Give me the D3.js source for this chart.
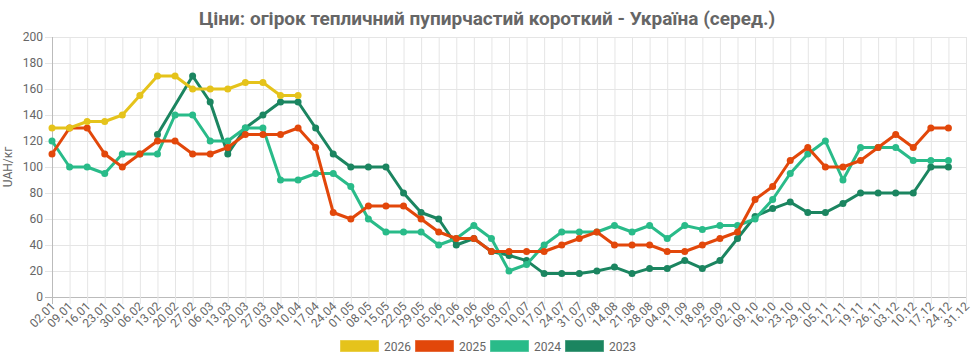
<!DOCTYPE html>
<html>
<head>
<meta charset="utf-8">
<script src="https://cdn.jsdelivr.net/npm/d3@7"></script>
<style>
  body { margin: 0; background: #fff; font-family: Roboto, "Noto Sans", sans-serif; }
  svg text { fill: #666; }
</style>
</head>
<body>
<svg id="chart" width="974" height="361"></svg>
<script>
// weekly labels
var weeks = ["02.01","09.01","16.01","23.01","30.01","06.02","13.02","20.02","27.02","06.03",
  "13.03","20.03","27.03","03.04","10.04","17.04","24.04","01.05","08.05","15.05",
  "22.05","29.05","05.06","12.06","19.06","26.06","03.07","10.07","17.07","24.07",
  "31.07","07.08","14.08","21.08","28.08","04.09","11.09","18.09","25.09","02.10",
  "09.10","16.10","23.10","29.10","05.11","12.11","19.11","26.11","03.12","10.12",
  "17.12","24.12","31.12"];

var y2026 = [130,130,135,135,140,155,170,170,160,160,160,165,165,155,155];

var y2025 = [110,130,130,110,100,110,120,120,110,110,115,125,125,125,130,115,65,60,70,70,
  70,60,50,45,45,35,35,35,35,40,45,50,40,40,40,35,35,40,45,50,
  75,85,105,115,100,100,105,115,125,115,130,130];

var y2024 = [120,100,100,95,110,110,110,140,140,120,120,130,130,90,90,95,95,85,60,50,
  50,50,40,45,55,45,20,25,40,50,50,50,55,50,55,45,55,52,55,55,
  60,75,95,110,120,90,115,115,115,105,105,105];

var y2023 = [null,null,null,null,null,null,125,null,170,150,110,130,140,150,150,130,110,100,100,100,
  80,65,60,40,45,35,32,28,18,18,18,20,23,18,22,22,28,22,28,45,
  62,68,73,65,65,72,80,80,80,80,100,100];

var years = ["2026","2025","2024","2023"];
var colors = ["#e5c31b","#e2470a","#29bb89","#1b8560"];
var seriesList = [y2026, y2025, y2024, y2023];

var svg = d3.select("#chart");
var plotL = 52, plotR = 966, plotT = 37, plotB = 297;

var x = d3.scalePoint().domain(weeks).range([plotL, plotR]);
var y = d3.scaleLinear().domain([0, 200]).range([plotB, plotT]);

// title
svg.append("text")
  .attr("x", 487).attr("y", 25)
  .attr("text-anchor", "middle")
  .style("font-size", "19px").style("font-weight", "bold")
  .text("Ціни: огірок тепличний пупирчастий короткий - Україна (серед.)");

// grid
var ticksY = d3.range(0, 201, 20);
svg.append("g").selectAll("line").data(ticksY).enter().append("line")
  .attr("x1", plotL - 7).attr("x2", plotR)
  .attr("y1", function(d) { return y(d) + 0.5; }).attr("y2", function(d) { return y(d) + 0.5; })
  .attr("stroke", function(d) { return d === 0 ? "#bbb" : "#e5e5e5"; });

svg.append("g").selectAll("line").data(weeks).enter().append("line")
  .attr("x1", function(d) { return x(d) + 0.5; }).attr("x2", function(d) { return x(d) + 0.5; })
  .attr("y1", plotT).attr("y2", plotB + 7)
  .attr("stroke", function(d, i) { return i === 0 ? "#bbb" : "#e5e5e5"; });

// y tick labels
svg.append("g").selectAll("text").data(ticksY).enter().append("text")
  .attr("x", plotL - 9).attr("y", function(d) { return y(d) + 4; })
  .attr("text-anchor", "end")
  .style("font-size", "12px")
  .text(function(d) { return d; });

svg.append("text")
  .attr("transform", "translate(12," + ((plotT + plotB) / 2) + ") rotate(-90)")
  .attr("text-anchor", "middle")
  .style("font-size", "12px")
  .text("UAH/кг");

// x tick labels, rotated
svg.append("g").selectAll("text").data(weeks).enter().append("text")
  .attr("transform", function(d) { return "translate(" + (x(d) + 4) + "," + (plotB + 10) + ") rotate(-45)"; })
  .attr("text-anchor", "end")
  .style("font-size", "12px")
  .text(function(d) { return d; });

// lines, 2023 drawn first so 2026 sits on top
var line = d3.line()
  .x(function(d) { return x(d.w); })
  .y(function(d) { return y(d.v); });

for (var k = seriesList.length - 1; k >= 0; k--) {
  var pts = [];
  seriesList[k].forEach(function(v, i) { if (v != null) pts.push({w: weeks[i], v: v}); });
  var g = svg.append("g");
  g.append("path").datum(pts)
    .attr("fill", "none")
    .attr("stroke", colors[k])
    .attr("stroke-width", 3)
    .attr("stroke-linejoin", "round")
    .attr("d", line);
  g.selectAll("circle").data(pts).enter().append("circle")
    .attr("cx", function(d) { return x(d.w); })
    .attr("cy", function(d) { return y(d.v); })
    .attr("r", 3.5)
    .attr("fill", colors[k]);
}

// legend
var legend = svg.append("g").attr("transform", "translate(340,340)");
years.forEach(function(yr, i) {
  var lg = legend.append("g").attr("transform", "translate(" + (i * 75) + ",0)");
  lg.append("rect").attr("width", 39).attr("height", 12)
    .attr("fill", colors[i]).attr("stroke", "#fff").attr("stroke-opacity", 0.4);
  lg.append("text").attr("x", 44).attr("y", 10.5)
    .style("font-size", "12px").text(yr);
});
</script>
</body>
</html>
